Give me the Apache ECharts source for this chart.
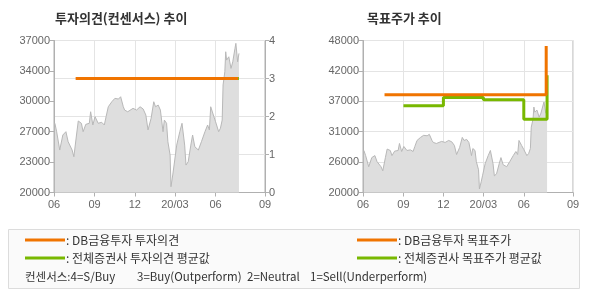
<!DOCTYPE html>
<html>
<head>
<meta charset="utf-8">
<script src="https://cdn.jsdelivr.net/npm/echarts@6/dist/echarts.min.js"></script>
<style>
html,body{margin:0;padding:0;background:#fff;}
#chart{width:590px;height:300px;}
</style>
</head>
<body>
<div id="chart"></div>
<script>
// ---- data ----
const priceDates = ['2019-06-03','2019-06-07','2019-06-14','2019-06-21','2019-06-28','2019-07-03','2019-07-12','2019-07-16','2019-07-22','2019-07-26',
  '2019-08-02','2019-08-06','2019-08-12','2019-08-20','2019-08-23','2019-08-28','2019-09-02','2019-09-09','2019-09-17','2019-09-23',
  '2019-09-27','2019-10-02','2019-10-10','2019-10-17','2019-10-25','2019-10-30','2019-11-05','2019-11-08','2019-11-15','2019-11-27',
  '2019-12-05','2019-12-13','2019-12-20','2019-12-26','2019-12-31','2020-01-07','2020-01-13','2020-01-17','2020-01-23','2020-01-28',
  '2020-02-03','2020-02-06','2020-02-11','2020-02-14','2020-02-19','2020-02-21','2020-02-25','2020-02-28','2020-03-05','2020-03-12',
  '2020-03-17','2020-03-23','2020-03-26','2020-03-31','2020-04-06','2020-04-10','2020-04-15','2020-04-23','2020-04-30','2020-05-08',
  '2020-05-14','2020-05-18','2020-05-21','2020-05-27','2020-06-01','2020-06-08','2020-06-12','2020-06-16','2020-06-18','2020-06-22',
  '2020-06-24','2020-06-26','2020-07-01','2020-07-06','2020-07-10','2020-07-15','2020-07-17','2020-07-21','2020-07-24'];
const priceValues = [27740,26800,24750,26430,26800,25680,24750,24000,26430,28000,
  27740,26800,27620,27740,29030,27550,28480,27740,27850,27550,
  28480,29590,30150,30530,30450,30710,29590,29220,29030,29410,
  29220,29590,29340,28670,27000,28300,30150,29590,29780,29220,
  26800,28100,27740,25680,24190,20650,21960,23070,25300,26800,
  27740,25300,23070,23440,25300,26430,25120,24750,25680,26800,
  27550,27000,29590,28670,27920,26800,27180,28100,32020,33510,
  35740,34810,35180,33880,34620,36120,36680,34620,35560];

// investment opinion (right axis 0-4)
const opinionDates = ['2019-07-20','2020-07-22'];
const opinionValues = [3, 3];
const consensusOpinionDates = ['2020-07-22','2020-07-24'];
const consensusOpinionValues = [3, 3];

// target price
const targetDates = ['2019-07-20','2020-07-22'];
const targetValues = [38000, 47000];
const consensusTargetDates = ['2019-09-01','2019-12-01','2020-03-01','2020-06-01','2020-07-24'];
const consensusTargetValues = [36000, 37500, 37100, 33500, 41600];

// axes
const xTickDates = ['2019-06-01','2019-09-01','2019-12-01','2020-03-01','2020-06-01','2020-09-21'];
const xTickLabels = ['06','09','12','20/03','06','09'];
const leftPriceTicks = ['20000','23000','27000','30000','34000','37000'];
const opinionTicks = ['0','1','2','3','4'];
const rightPriceTicks = ['20000','26000','31000','37000','42000','48000'];

const titles = ['투자의견(컨센서스) 추이', '목표주가 추이'];
const legendTexts = [': DB금융투자 투자의견', ': 전체증권사 투자의견 평균값', ': DB금융투자 목표주가', ': 전체증권사 목표주가 평균값'];
const noteTexts = ['컨센서스:4=S/Buy', '3=Buy(Outperform)', '2=Neutral', '1=Sell(Underperform)'];

// ---- build ----
const ORANGE = '#f07400', GREEN = '#78b800';
const AXIS = '#b0b0b0', GRID = '#e4e4e4', LABEL = '#666';
const LFONT = 'Liberation Sans, Arial, sans-serif';
const KFONT = 'Noto Sans CJK KR, sans-serif';

const T0 = Date.parse(xTickDates[0]);
const day = d => Math.round((Date.parse(d) - T0) / 86400000);
function zip(a, b) { return a.map((d, i) => [day(d), b[i]]); }
const tickDays = xTickDates.map(day);
function xFmt(v) {
  let best = 0, bd = Infinity;
  tickDays.forEach((t, i) => { const dd = Math.abs(t - v); if (dd < bd) { bd = dd; best = i; } });
  return xTickLabels[best];
}
function makeX(gridIndex) {
  return {
    type: 'value', gridIndex,
    min: tickDays[0], max: tickDays[tickDays.length - 1],
    axisLine: { show: true, lineStyle: { color: AXIS, width: 1 } },
    axisTick: { show: true, length: 4, lineStyle: { color: AXIS }, customValues: tickDays },
    axisLabel: { customValues: tickDays, formatter: xFmt, color: LABEL, fontSize: 11, fontFamily: LFONT, margin: 7, showMinLabel: true, showMaxLabel: true },
    splitLine: { show: true, lineStyle: { color: GRID, width: 1 } }
  };
}
function priceArea(xi, yi) {
  return {
    type: 'line', xAxisIndex: xi, yAxisIndex: yi, data: zip(priceDates, priceValues),
    symbol: 'none', z: 1, silent: true,
    lineStyle: { color: '#b8b8b8', width: 1 },
    areaStyle: { color: '#dedede', opacity: 1, origin: 'start' }
  };
}
function stepLine(xi, yi, dates, vals, color, z) {
  return {
    type: 'line', xAxisIndex: xi, yAxisIndex: yi, data: zip(dates, vals), step: 'end',
    symbol: 'none', z, lineStyle: { color, width: 3, cap: 'butt' }
  };
}

const chart = echarts.init(document.getElementById('chart'), null, { renderer: 'canvas' });

const gy = [240, 258];
const graphics = [
  { type: 'rect', shape: { x: 8.5, y: 229.5, width: 571, height: 59 }, style: { fill: '#fafafa', stroke: '#dcdcdc', lineWidth: 1 } }
];
[ORANGE, GREEN].forEach((c, r) => {
  [25, 357].forEach((x0, col) => {
    graphics.push({ type: 'line', shape: { x1: x0, y1: gy[r], x2: x0 + 40, y2: gy[r] }, style: { stroke: c, lineWidth: 3 } });
    graphics.push({ type: 'text', x: x0 + 41, y: gy[r], style: { text: legendTexts[col * 2 + r], fill: '#333', font: '12px ' + KFONT, textVerticalAlign: 'middle' } });
  });
});
[25, 137, 247, 310].forEach((x, i) => {
  graphics.push({ type: 'text', x, y: 277, style: { text: noteTexts[i], fill: '#333', font: '11.5px ' + KFONT, textVerticalAlign: 'middle' } });
});

chart.setOption({
  animation: false,
  backgroundColor: '#fff',
  title: [
    { text: titles[0], left: 55, top: 12, padding: 0, textStyle: { fontSize: 13, fontWeight: 'bold', color: '#333', fontFamily: KFONT } },
    { text: titles[1], left: 367, top: 12, padding: 0, textStyle: { fontSize: 13, fontWeight: 'bold', color: '#333', fontFamily: KFONT } }
  ],
  grid: [
    { left: 54, top: 40.5, width: 211, height: 152, show: true, borderColor: AXIS, borderWidth: 1, backgroundColor: 'transparent' },
    { left: 363, top: 40.5, width: 210, height: 152, show: true, borderColor: AXIS, borderWidth: 1, backgroundColor: 'transparent' }
  ],
  xAxis: [makeX(0), makeX(1)],
  yAxis: [
    { type: 'value', gridIndex: 0, min: 20000, max: 37000, interval: 3400, position: 'left',
      axisLine: { show: true, lineStyle: { color: AXIS } }, axisTick: { show: true, length: 4, lineStyle: { color: AXIS } },
      axisLabel: { color: LABEL, fontSize: 11, fontFamily: LFONT, margin: 4, formatter: v => leftPriceTicks[Math.round((v - 20000) / 3400)] },
      splitLine: { show: false } },
    { type: 'value', gridIndex: 0, min: 0, max: 4, interval: 1, position: 'right',
      axisLine: { show: true, lineStyle: { color: AXIS } }, axisTick: { show: true, length: 4, lineStyle: { color: AXIS } },
      axisLabel: { color: LABEL, fontSize: 11, fontFamily: LFONT, margin: 4, formatter: v => opinionTicks[Math.round(v)] },
      splitLine: { show: true, lineStyle: { color: GRID } } },
    { type: 'value', gridIndex: 1, min: 20000, max: 48000, interval: 5600, position: 'left',
      axisLine: { show: true, lineStyle: { color: AXIS } }, axisTick: { show: true, length: 4, lineStyle: { color: AXIS } },
      axisLabel: { color: LABEL, fontSize: 11, fontFamily: LFONT, margin: 4, formatter: v => rightPriceTicks[Math.round((v - 20000) / 5600)] },
      splitLine: { show: true, lineStyle: { color: GRID } } }
  ],
  series: [
    priceArea(0, 0),
    stepLine(0, 1, opinionDates, opinionValues, ORANGE, 3),
    stepLine(0, 1, consensusOpinionDates, consensusOpinionValues, GREEN, 4),
    priceArea(1, 2),
    stepLine(1, 2, consensusTargetDates, consensusTargetValues, GREEN, 3),
    stepLine(1, 2, targetDates, targetValues, ORANGE, 4)
  ],
  graphic: graphics
});
</script>
</body>
</html>
